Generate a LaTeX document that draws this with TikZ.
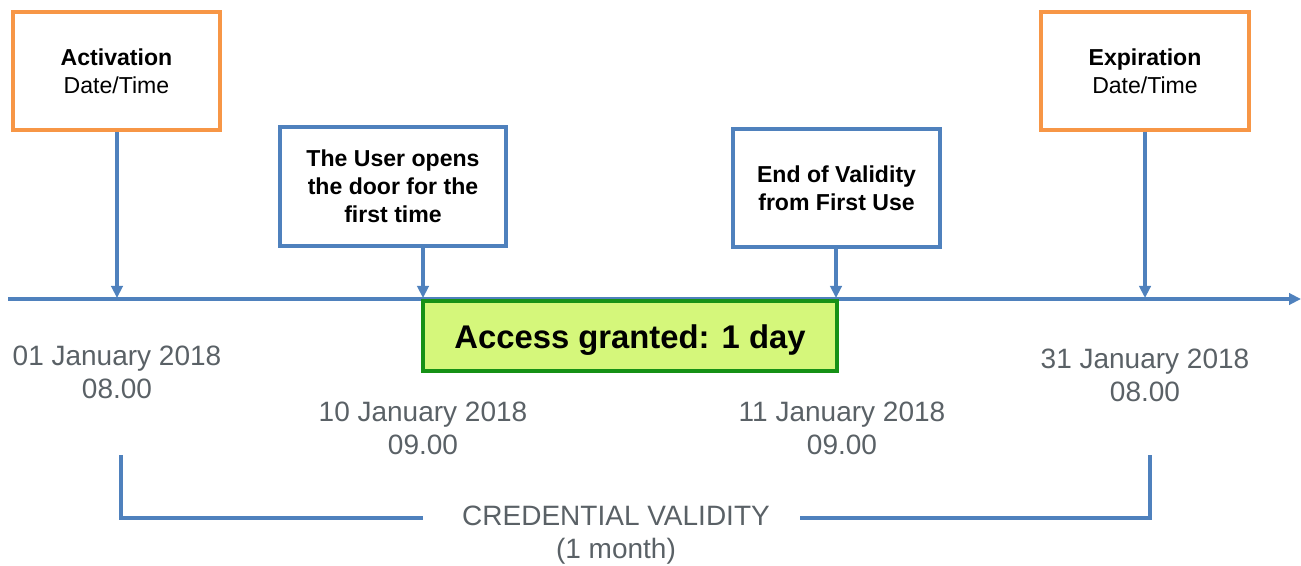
\documentclass[tikz,border=0pt]{standalone}
\usepackage{fontspec}
\setmainfont{Liberation Sans}
\usetikzlibrary{arrows.meta,shadows}
\definecolor{orangeB}{HTML}{F79646}
\definecolor{blueL}{HTML}{4F81BD}
\definecolor{greenF}{HTML}{D5F77B}
\definecolor{greenB}{HTML}{169116}
\definecolor{grayT}{HTML}{5A6166}
\tikzset{
  shad/.style={drop shadow={opacity=0.25,shadow xshift=1.2pt,shadow yshift=-1.5pt}},
  evbox/.style={draw=#1,line width=2.8pt,fill=white,shad,align=center,inner sep=0pt,
     font=\fontsize{17.3}{21}\selectfont},
  conn/.style={draw=blueL,line width=2.6pt,-{Triangle[width=8.5pt,length=9pt]}},
  brk/.style={draw=blueL,line width=2.6pt},
  datet/.style={text=grayT,align=center,inner sep=0pt,font=\fontsize{21}{24.75}\selectfont},
}
\begin{document}
\begin{tikzpicture}[x=0.75pt,y=-0.75pt]
\useasboundingbox (0,0) rectangle (1301,566);
% timeline
\coordinate (tlS) at (8,299);
\coordinate (tlE) at (1301,299);
\draw[conn] (tlS) -- (tlE);
% event boxes
\node[evbox=orangeB,minimum width=155.25pt,minimum height=88.5pt] (act) at (116.5,71)
  {\rule{0pt}{3pt}\textbf{Activation}\\Date/Time};
\node[evbox=orangeB,minimum width=156pt,minimum height=88.5pt] (exp) at (1145,71)
  {\rule{0pt}{3pt}\textbf{Expiration}\\Date/Time};
\node[evbox=blueL,minimum width=169.5pt,minimum height=89.25pt] (usr) at (393,186.5)
  {\textbf{The User opens}\\\textbf{the door for the}\\\textbf{first time}};
\node[evbox=blueL,minimum width=155.25pt,minimum height=88.5pt] (end) at (836.5,188)
  {\textbf{End of Validity}\\\textbf{from First Use}};
% arrow tips on timeline
\coordinate (t1) at (117,298);
\coordinate (t2) at (423,298);
\coordinate (t3) at (836,298);
\coordinate (t4) at (1145,298);
\draw[conn] (act.south -| t1) -- (t1);
\draw[conn] (usr.south -| t2) -- (t2);
\draw[conn] (end.south -| t3) -- (t3);
\draw[conn] (exp.south -| t4) -- (t4);
% access granted
\node[draw=greenB,line width=2.8pt,fill=greenF,shad,minimum width=310.5pt,minimum height=52.5pt,
  inner sep=0pt,text height=24pt,text depth=5.2pt,
  font=\fontsize{24.6}{28}\selectfont\bfseries] (acc) at (630,336) {Access granted: 1 day};
% dates
\node[datet] (d1) at (117,372) {01 January 2018\\08.00};
\node[datet] (d2) at (423,428) {10 January 2018\\09.00};
\node[datet] (d3) at (842,428) {11 January 2018\\09.00};
\node[datet] (d4) at (1145,375) {31 January 2018\\08.00};
% credential validity bracket
\node[datet] (cv) at (616,535) {CREDENTIAL VALIDITY\\(1 month)};
\coordinate (bl1) at (121,455);
\coordinate (bl2) at (121,518);
\coordinate (bl3) at (423,518);
\coordinate (br1) at (800,518);
\coordinate (br2) at (1150,518);
\coordinate (br3) at (1150,455);
\draw[brk] (bl1) -- (bl2) -- (bl3);
\draw[brk] (br1) -- (br2) -- (br3);
\end{tikzpicture}
\end{document}
